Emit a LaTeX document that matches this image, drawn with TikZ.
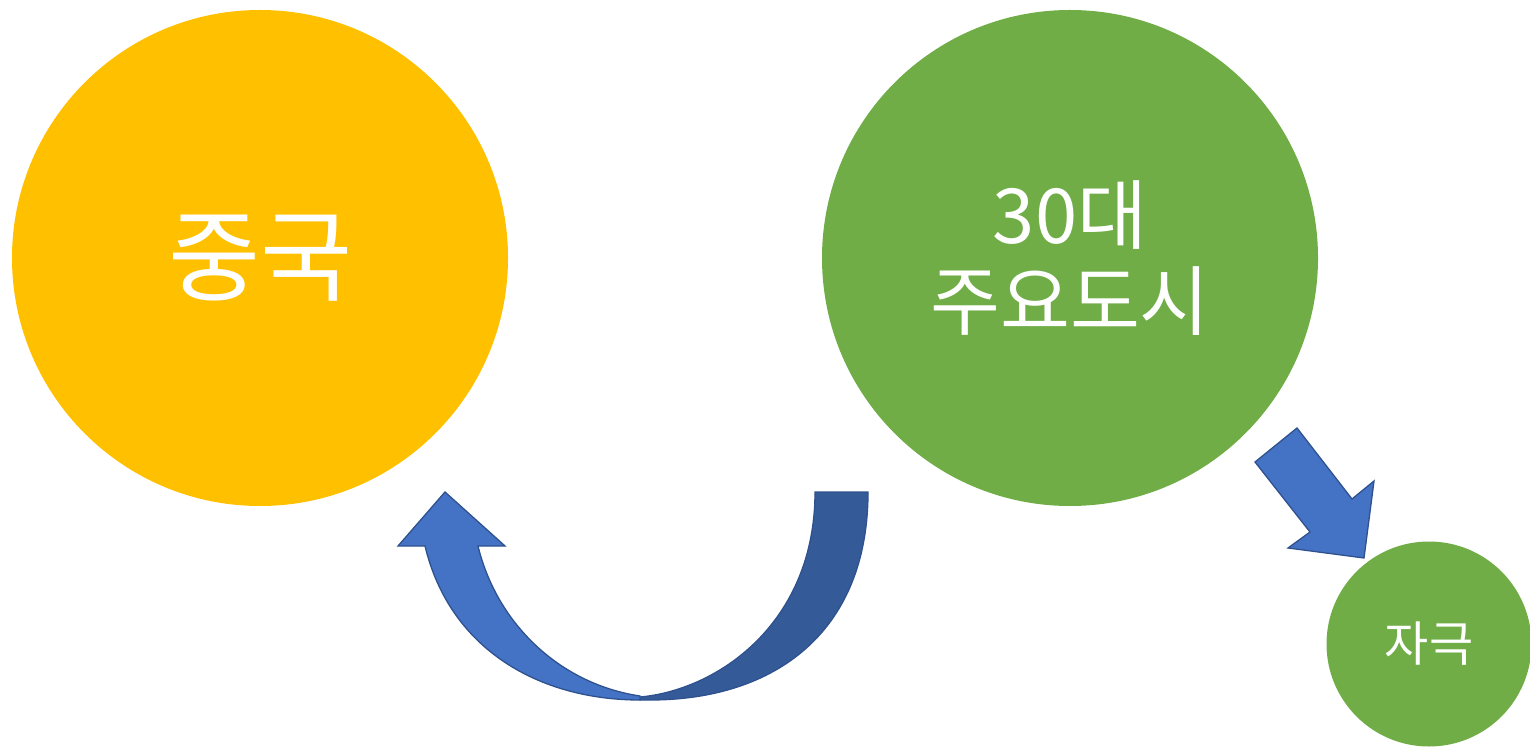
\documentclass[tikz,border=0pt]{standalone}
\usepackage{fontspec}
\usepackage{tikz}
\usetikzlibrary{calc}
\newfontfamily\krfont{Noto Sans CJK KR}
\definecolor{gold}{HTML}{FFC000}
\definecolor{leaf}{HTML}{70AD47}
\definecolor{arrowblue}{HTML}{4472C4}
\definecolor{arrowdark}{HTML}{345A98}
\definecolor{arrowedge}{HTML}{2F528F}

\begin{document}
\begin{tikzpicture}[x=1pt, y=1pt,
	bubble/.style={circle, inner sep=0pt, text=white, align=center},
	blockarrow/.style={draw=arrowedge, line width=1.3pt, line join=miter}]
\useasboundingbox (0,0) rectangle (1530,748);

\node[bubble, fill=gold, minimum size=496pt, font=\krfont\fontsize{100}{110}\selectfont] (china) at (260,490) {중국};
\node[bubble, fill=leaf, minimum size=496pt, font=\krfont\fontsize{76}{86}\selectfont] (cities) at (1070,490) {30대\\주요도시};
\node[bubble, fill=leaf, minimum size=205pt, font=\krfont\fontsize{48}{54}\selectfont] (home) at (1429,104) {자극};

% curved arrow from the cities back to china
\filldraw[blockarrow, fill=arrowdark] (815,256) -- (868,256)
	.. controls (868,116) and (775,48) .. (650,48)
	-- (640,48) -- (640,51)
	.. controls (718,58) and (815,125) .. (815,256) -- cycle;
\filldraw[blockarrow, fill=arrowblue] (640,52) .. controls (560,64) and (497,124) .. (478,202)
	-- (505,202) -- (445,256) -- (398,202) -- (425,202)
	.. controls (450,98) and (540,48) .. (640,48) -- cycle;

% arrow down to the small circle
\filldraw[blockarrow, fill=arrowblue] (1255,286) -- (1297,320) -- (1352,249) -- (1374,267)
	-- (1364,190) -- (1288,200) -- (1310,216) -- cycle;
\end{tikzpicture}
\end{document}
